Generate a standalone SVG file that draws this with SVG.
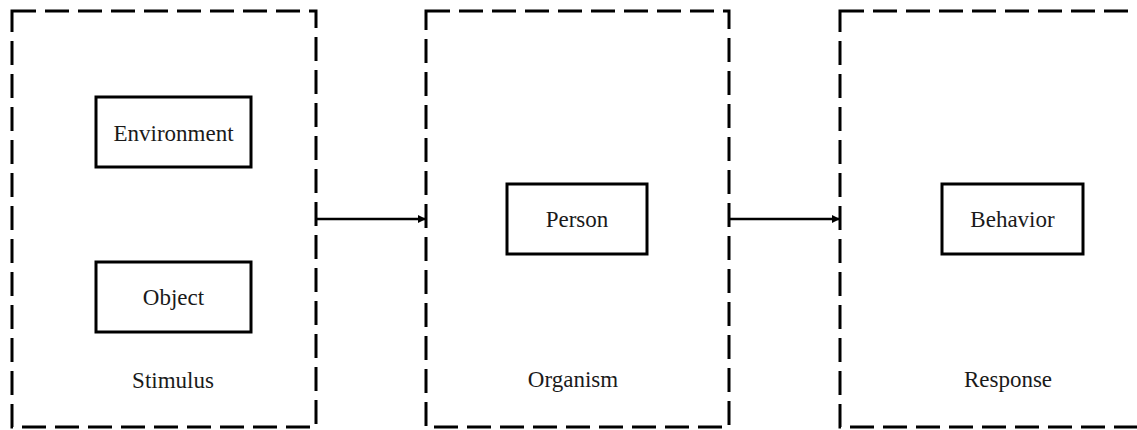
<svg xmlns="http://www.w3.org/2000/svg" width="1137" height="430" viewBox="0 0 1137 430">
<style>
.grp{fill:none;stroke:#000;stroke-width:3;stroke-dasharray:24 9}
.box{fill:#fff;stroke:#000;stroke-width:3}
.t{font-family:"Liberation Serif","Times New Roman",serif;font-size:23px;fill:#1a1a1a;text-anchor:middle}
.c{fill:none;stroke:#000;stroke-width:2.5}
</style>
<defs>
<marker id="ah" viewBox="0 0 10 10" refX="10" refY="5" markerWidth="10" markerHeight="8" markerUnits="userSpaceOnUse" orient="auto">
<path d="M0,0 L10,5 L0,10 z" fill="#000"/>
</marker>
</defs>
<rect width="1137" height="430" fill="#fff"/>
<g id="stimulus">
<rect class="grp" x="12" y="11" width="304" height="416"/>
<text class="t" x="173" y="388">Stimulus</text>
</g>
<g id="environment">
<rect class="box" x="96" y="97" width="155" height="70"/>
<text class="t" x="173.5" y="141">Environment</text>
</g>
<g id="object">
<rect class="box" x="96" y="262" width="155" height="70"/>
<text class="t" x="173.5" y="305">Object</text>
</g>
<g id="organism">
<rect class="grp" x="426" y="11" width="303" height="416"/>
<text class="t" x="573" y="387">Organism</text>
</g>
<g id="person">
<rect class="box" x="507" y="184" width="140" height="70"/>
<text class="t" x="577" y="227">Person</text>
</g>
<g id="response">
<rect class="grp" x="840" y="11" width="304" height="416"/>
<text class="t" x="1008" y="387">Response</text>
</g>
<g id="behavior">
<rect class="box" x="942" y="184" width="141" height="70"/>
<text class="t" x="1012.5" y="227">Behavior</text>
</g>
<g id="connectors">
<line class="c" x1="316" y1="219" x2="426" y2="219" marker-end="url(#ah)"/>
<line class="c" x1="729" y1="219" x2="840" y2="219" marker-end="url(#ah)"/>
</g>
</svg>
